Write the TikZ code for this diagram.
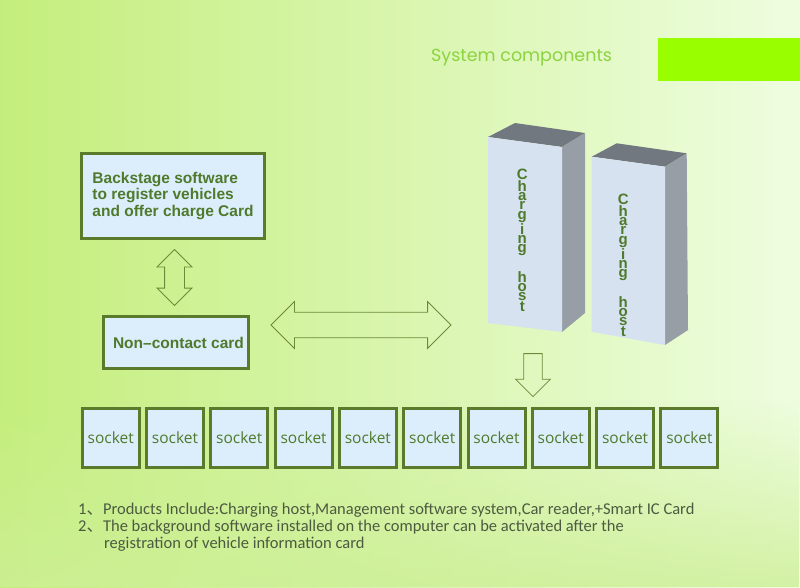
\documentclass[tikz,border=0pt]{standalone}
\usepackage{fontspec}
\setmainfont{Liberation Sans}
\newfontfamily\notefont{Carlito}
\newfontfamily\titlefont{Poppins}
\newfontfamily\sockfont{Open Sans}
\newfontfamily\cjk{Noto Sans CJK SC}
\usepackage{tikz}
\usetikzlibrary{shapes.arrows,fadings,calc}

\definecolor{bgleft}{HTML}{C4EE7C}
\definecolor{bgright}{HTML}{EEFDE0}
\definecolor{bgbottom}{HTML}{CDEF96}
\definecolor{bargreen}{HTML}{99FF00}
\definecolor{titlegreen}{HTML}{8CD340}
\definecolor{boxline}{HTML}{5C7A2C}
\definecolor{boxfill}{HTML}{DCEEFC}
\definecolor{boxtext}{HTML}{4F7A2B}
\definecolor{arrowline}{HTML}{6C8A3A}
\definecolor{hostfront}{HTML}{D6E2F0}
\definecolor{hosttop}{HTML}{72787F}
\definecolor{hostside}{HTML}{989EA6}
\definecolor{notetext}{HTML}{4C5A40}

\begin{document}
\begin{tikzpicture}[x=1pt,y=-1pt,
  box/.style={draw=boxline,line width=3pt,fill=boxfill,inner sep=0pt},
  sock/.style={box,minimum width=57pt,minimum height=59.6pt,text=boxtext,
    font=\sockfont\fontsize{15.5}{18}\selectfont},
  hollow/.style={draw=arrowline,line width=0.8pt,inner xsep=0pt},
  hostlabel/.style={text=boxtext,inner sep=0pt,anchor=north,align=center,
    font=\bfseries\fontsize{15}{9.2}\selectfont},
  note/.style={text=notetext,inner sep=0pt,anchor=base west,
    font=\notefont\fontsize{16.5}{17}\selectfont}]
  \useasboundingbox (0,0) rectangle (800,587);
  \shade[left color=bgleft,right color=bgright] (0,0) rectangle (800,587);
  \fill[bgbottom,path fading=north,fill opacity=0.8] (0,400) rectangle (800,587);

  \fill[bargreen] (658,38) rectangle (800,81);
  \node[anchor=west,inner sep=0pt,text=titlegreen,font=\titlefont\fontsize{17.5}{20}\selectfont] (title) at (431,58) {System components};

  \node[box,minimum width=183pt,minimum height=85pt,text=boxtext,align=left,
    font=\bfseries\fontsize{15.5}{16.5}\selectfont] (backstage) at (173,196)
    {Backstage software\\to register vehicles\\and offer charge Card};
  \node[box,minimum width=145pt,minimum height=52pt,text=boxtext,
    font=\bfseries\fontsize{15.5}{16.5}\selectfont] (card) at (176,342.5) {\hspace{5pt}Non--contact card};

  \node[hollow,double arrow,rotate=90,minimum height=56pt,inner ysep=9.5pt,
    double arrow head extend=7.5pt] (updown) at ($(backstage.south)!0.5!(card.north)$) {};
  \node[hollow,double arrow,minimum height=180pt,inner ysep=12.3pt,
    double arrow head extend=10.7pt] (link) at (361,325) {};

  \filldraw[fill=hosttop,draw=none] (488,137) -- (515,123) -- (585,133) -- (562,147) -- cycle;
  \filldraw[fill=hostside,draw=none] (562,147) -- (585,133) -- (585,313) -- (562,332) -- cycle;
  \filldraw[fill=hostfront,draw=none] (488,137) -- (562,147) -- (562,332) -- (488,323) -- cycle;
  \node[hostlabel] (host1) at (522.3,168.8) {C\\h\\a\\r\\g\\i\\n\\g\\[15pt]h\\o\\s\\t};
  \filldraw[fill=hosttop,draw=none] (591.7,156.7) -- (616.7,143.3) -- (686.7,153.3) -- (665,166.7) -- cycle;
  \filldraw[fill=hostside,draw=none] (665,166.7) -- (686.7,153.3) -- (688,330) -- (665,345) -- cycle;
  \filldraw[fill=hostfront,draw=none] (591.7,156.7) -- (665,166.7) -- (665,345) -- (591.7,331.7) -- cycle;
  \node[hostlabel] (host2) at (623.3,193.8) {C\\h\\a\\r\\g\\i\\n\\g\\[15pt]h\\o\\s\\t};

  \node[hollow,single arrow,rotate=-90,minimum height=43pt,inner ysep=8.85pt,
    single arrow head extend=8.1pt] (down) at (533,370.5) {};

  \foreach \i in {1,...,10}
    \node[sock] (socket\i) at ({110.7+64.3*(\i-1)},438) {socket};

  \node[note] (note1) at (78,514) {1{\cjk 、}Products Include:Charging host,Management software system,Car reader,+Smart IC Card};
  \node[note] (note2) at (78,531) {2{\cjk 、}The background software installed on the computer can be activated after the};
  \node[note] (note3) at (104,548) {registration of vehicle information card};
\end{tikzpicture}
\end{document}
